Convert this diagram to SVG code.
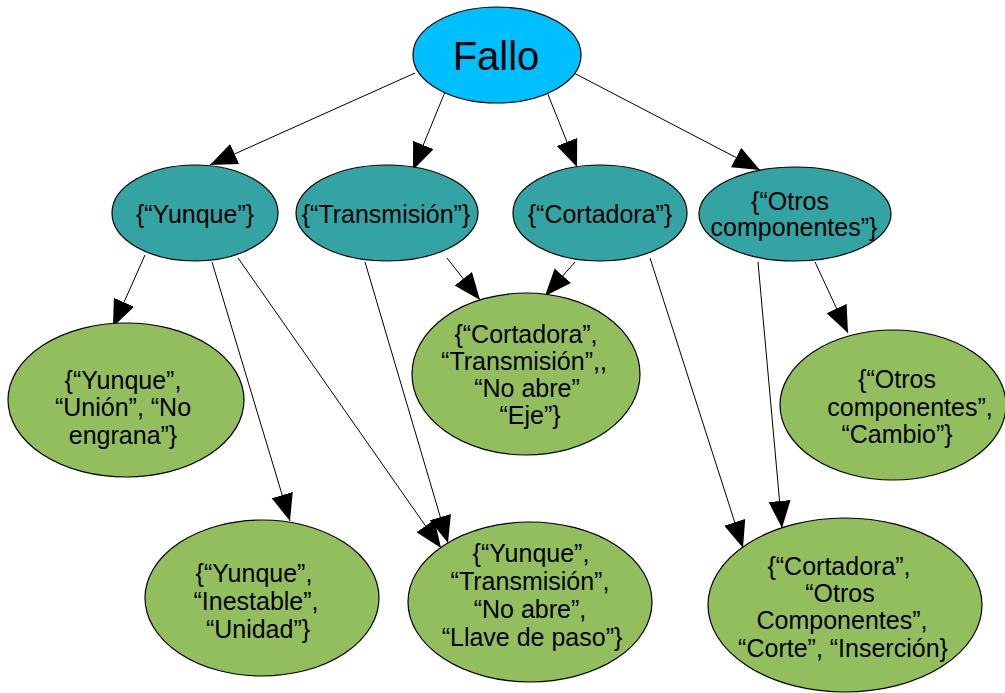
<svg xmlns="http://www.w3.org/2000/svg" width="1005" height="693" viewBox="0 0 1005 693">
<style>
.t{font-family:"Liberation Sans",Arial,sans-serif;font-size:25px;fill:#000;text-anchor:middle}
.root{fill:#00BFFF;stroke:#000;stroke-width:1.2}
.mid{fill:#34A3A3;stroke:#000;stroke-width:1.2}
.leaf{fill:#93BE5E;stroke:#000;stroke-width:1.2}
.e{stroke:#000;stroke-width:1;fill:none;marker-end:url(#ah)}
</style>
<defs>
<marker id="ah" markerUnits="userSpaceOnUse" markerWidth="30" markerHeight="24" refX="27" refY="11" orient="auto">
<path d="M0,0 L27,11 L0,22 Z" fill="#000"/>
</marker>
</defs>
<rect width="1005" height="693" fill="#fff"/>
<g id="connectors">
<line class="e" x1="415" y1="73" x2="210" y2="165"/>
<line class="e" x1="445" y1="92" x2="413" y2="170"/>
<line class="e" x1="547" y1="92" x2="577" y2="167"/>
<line class="e" x1="572" y1="72" x2="760" y2="170"/>
<line class="e" x1="145" y1="255" x2="113" y2="327"/>
<line class="e" x1="212" y1="262" x2="290" y2="521"/>
<line class="e" x1="238" y1="258" x2="441" y2="548"/>
<line class="e" x1="447" y1="258" x2="480" y2="300"/>
<line class="e" x1="365" y1="262" x2="448" y2="543"/>
<line class="e" x1="575" y1="262" x2="545" y2="296"/>
<line class="e" x1="650" y1="258" x2="743" y2="548"/>
<line class="e" x1="758" y1="262" x2="782" y2="528"/>
<line class="e" x1="815" y1="262" x2="848" y2="333"/>
</g>
<g id="fallo">
<ellipse class="root" cx="497" cy="55" rx="84" ry="48"/>
<text class="t" x="496" y="70" style="font-size:40px">Fallo</text>
</g>
<g id="yunque">
<ellipse class="mid" cx="195" cy="213" rx="83" ry="48"/>
<text class="t" x="195" y="223">{“Yunque”}</text>
</g>
<g id="transmision">
<ellipse class="mid" cx="387" cy="213" rx="91" ry="48"/>
<text class="t" x="386" y="223">{“Transmisión”}</text>
</g>
<g id="cortadora">
<ellipse class="mid" cx="600" cy="213" rx="87" ry="48"/>
<text class="t" x="600" y="223">{“Cortadora”}</text>
</g>
<g id="otros">
<ellipse class="mid" cx="795" cy="214" rx="96" ry="47"/>
<text class="t" x="790" y="210">{“Otros</text>
<text class="t" x="794" y="236">componentes”}</text>
</g>
<g id="yunque-union">
<ellipse class="leaf" cx="126" cy="400" rx="118" ry="77"/>
<text class="t" x="123" y="389">{“Yunque”,</text>
<text class="t" x="123" y="416">“Unión”, “No</text>
<text class="t" x="123" y="444">engrana”}</text>
</g>
<g id="cortadora-transmision">
<ellipse class="leaf" cx="526" cy="374" rx="114" ry="81"/>
<text class="t" x="526" y="343">{“Cortadora”,</text>
<text class="t" x="524" y="370">“Transmisión”,,</text>
<text class="t" x="527" y="397">“No abre”</text>
<text class="t" x="530" y="424">“Eje”}</text>
</g>
<g id="otros-cambio">
<ellipse class="leaf" cx="893" cy="405" rx="113" ry="75"/>
<text class="t" x="897" y="388">{“Otros</text>
<text class="t" x="910" y="416">componentes”,</text>
<text class="t" x="897" y="443">“Cambio”}</text>
</g>
<g id="yunque-inestable">
<ellipse class="leaf" cx="262" cy="598" rx="117" ry="78"/>
<text class="t" x="254" y="582">{“Yunque”,</text>
<text class="t" x="256" y="610">“Inestable”,</text>
<text class="t" x="258" y="638">“Unidad”}</text>
</g>
<g id="yunque-llave">
<ellipse class="leaf" cx="530" cy="602" rx="122" ry="80"/>
<text class="t" x="531" y="562">{“Yunque”,</text>
<text class="t" x="530" y="590">“Transmisión”,</text>
<text class="t" x="530" y="618">“No abre”,</text>
<text class="t" x="532" y="646">“Llave de paso”}</text>
</g>
<g id="cortadora-otros">
<ellipse class="leaf" cx="845" cy="605" rx="137" ry="87"/>
<text class="t" x="839" y="575">{“Cortadora”,</text>
<text class="t" x="840" y="602">“Otros</text>
<text class="t" x="842" y="629">Componentes”,</text>
<text class="t" x="843" y="657">“Corte”, “Inserción}</text>
</g>
</svg>
